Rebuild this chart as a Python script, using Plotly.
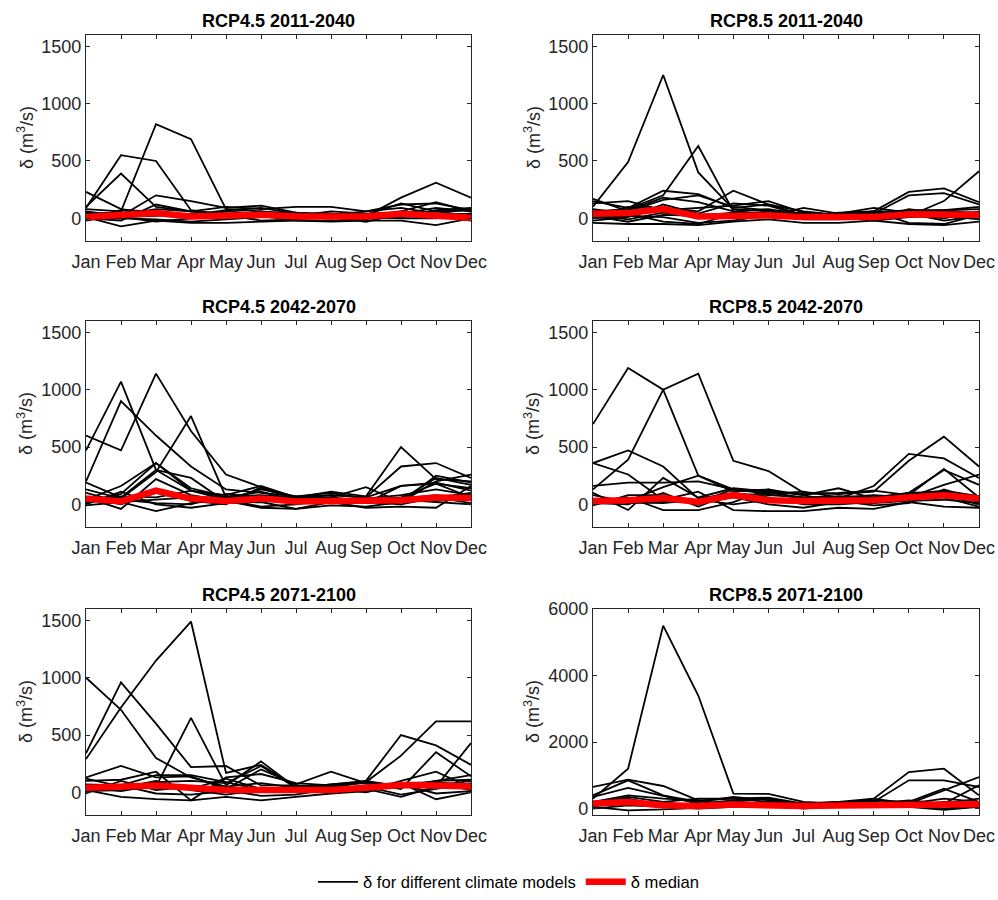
import plotly.graph_objects as go
from plotly.subplots import make_subplots

months = ["Jan", "Feb", "Mar", "Apr", "May", "Jun", "Jul", "Aug", "Sep", "Oct", "Nov", "Dec"]
panel_titles = ["RCP4.5 2011-2040", "RCP8.5 2011-2040",
                "RCP4.5 2042-2070", "RCP8.5 2042-2070",
                "RCP4.5 2071-2100", "RCP8.5 2071-2100"]

# Monthly delta per climate model (m3/s)
rcp45_2011_2040 = [
    [80, 60, 820, 690, 80, 60, 40, 30, 30, 50, 40, 20],
    [90, 550, 500, 70, 30, 40, 20, 10, 20, 60, 30, 40],
    [100, 390, 100, 60, 40, 30, 10, 20, 10, 20, 60, 70],
    [230, 80, 40, 20, 10, 20, 30, 40, 20, 180, 310, 180],
    [60, 20, 200, 150, 90, 110, 50, 40, 30, 130, 60, 80],
    [10, -70, -20, -40, -40, -30, -20, -20, -10, 60, 140, 60],
    [0, -20, 120, 60, 100, 80, 100, 100, 60, 120, 130, 70],
    [40, 50, 60, 30, 10, 20, -20, -30, -20, -20, -60, 0],
    [20, 30, 40, 10, 60, 40, 10, 0, 30, 30, 40, 80],
    [-10, 0, -10, -30, -10, 10, 20, 60, 40, 50, 20, -20],
    [50, 10, 20, 40, 30, -20, -10, 10, 0, 10, 70, 90],
    [0, 70, 60, 30, 70, 90, 40, 30, 60, 90, 40, 30],
    [-20, 30, 80, 60, 20, 60, 20, 10, -30, 40, 90, 60],
    [30, 10, -30, 0, 40, 30, 50, 20, 10, 0, 0, 40],
]
rcp85_2011_2040 = [
    [100, 490, 1250, 400, 80, 60, 20, 10, 20, 40, 60, 50],
    [60, 80, 200, 630, 60, 40, 10, 0, 30, 60, 50, 30],
    [40, 30, 90, 60, 240, 120, 30, 40, 20, 20, 150, 410],
    [170, 60, 160, 200, 100, 70, 40, 30, 60, 230, 260, 140],
    [130, 150, 70, 90, 110, 150, 50, 30, 40, 200, 220, 120],
    [150, 90, 240, 210, 90, 120, 60, 30, 60, 60, 70, 100],
    [-40, -50, -50, -60, -30, -10, -40, -40, -20, -50, -60, -30],
    [20, -30, 30, 20, 50, 20, 90, 40, 90, 50, 30, 40],
    [0, 20, 10, -40, -20, 30, 0, 10, -20, 10, 20, -10],
    [60, 70, 180, 140, 60, 80, 30, 20, 50, 70, 70, 80],
    [-20, 10, 120, 40, 130, 110, 20, 0, 10, 30, 0, 60],
    [80, 40, -30, -50, 40, 20, -10, -10, 0, 80, 40, 10],
    [30, -10, 50, 10, 0, 60, 40, 20, 30, 40, -20, 20],
    [10, 100, 80, 30, 30, 40, 10, 50, 60, -40, -50, 30],
]
rcp45_2042_2070 = [
    [470, 1070, 300, 120, 60, 50, 30, 20, 10, 40, 60, 100],
    [600, 470, 1140, 640, 260, 150, 60, 50, 40, 60, 180, 140],
    [200, 900, 600, 330, 130, 100, 70, 80, 60, 160, 190, 120],
    [130, 50, 280, 770, 60, 110, 30, 40, 50, 40, 230, 170],
    [20, 90, 360, 120, 80, 160, 60, 110, 70, 500, 220, 200],
    [190, 60, 300, 230, 20, 140, 50, 80, 60, 330, 360, 230],
    [40, 160, 360, 140, 70, 80, 60, 60, 150, 20, 250, 190],
    [60, -40, 220, 80, 30, -30, -40, -10, -20, 20, 200, 260],
    [0, 110, 0, -30, 10, 20, -40, 20, -30, -20, -30, 160],
    [100, 20, -60, 10, 40, -20, 0, 40, 10, 160, 180, 60],
    [30, 70, 60, 120, 40, 130, 70, 100, 50, 80, 130, 80],
    [-10, 20, 40, 60, 60, 40, 30, 30, 20, 0, 60, 10],
    [60, 0, 100, 30, 0, 150, 40, 20, 10, 50, 80, 50],
    [20, 40, 10, 0, 90, 60, 20, 60, 30, 40, 20, 0],
]
rcp85_2042_2070 = [
    [700, 1190, 1000, 250, 130, 100, 60, 70, 60, 100, 110, 60],
    [130, 390, 1000, 1140, 380, 290, 100, 90, 110, 380, 590, 330],
    [360, 470, 330, 50, 100, 30, 20, 50, 160, 440, 400, 230],
    [360, 260, 40, 20, 130, 120, 80, 140, 50, 100, 300, 170],
    [160, 190, 190, 200, 130, 90, 110, 60, 80, 60, 170, 260],
    [100, -50, 230, 60, 140, 110, 90, 100, 120, 80, 310, 60],
    [30, 30, 150, 250, 110, 130, 30, 70, 60, 90, 120, 70],
    [0, 40, 40, 110, -50, -60, -60, -30, -40, 20, -20, -30],
    [20, 60, -50, -50, 20, 130, 80, 20, 10, 30, 40, 10],
    [50, 10, 20, 20, 60, 0, -30, 20, 40, 50, 80, 0],
    [-10, 80, 80, 0, 90, 80, 60, 30, -10, 10, 130, 40],
    [80, 20, 10, 40, 0, 40, 40, 60, 30, 70, 60, -20],
    [10, 0, 100, -20, 100, 60, 0, 0, 20, 100, 100, 20],
]
rcp45_2071_2100 = [
    [1000, 720, 300, 130, 50, 80, 40, 20, 40, 70, 60, 100],
    [290, 740, 1150, 1490, 170, 240, 50, 60, 80, 40, 100, 150],
    [340, 960, 600, 220, 230, 60, 60, 50, 90, 320, 620, 620],
    [120, 50, 50, 650, 60, 270, 40, 30, 100, 500, 410, 240],
    [130, 230, 130, 140, 30, 200, 70, 180, 80, 30, 350, 140],
    [100, 110, 180, -70, 130, 160, 80, 60, 30, -40, 50, 430],
    [20, -40, -60, -70, -40, -70, -40, -10, 10, 100, 180, 40],
    [50, 60, 150, 150, 90, 20, 20, 20, 60, 80, -60, 0],
    [10, 20, 90, 100, 80, 230, 40, 70, 90, 60, 80, 20],
    [70, 60, -10, -20, 10, 40, 30, 70, 100, 50, 100, 110],
    [-10, 100, 20, 50, 20, -30, -20, 30, 0, 70, -10, 10],
    [40, 10, 60, 30, 120, 30, 0, 10, 20, 80, 90, 60],
    [30, 40, 100, 20, -20, 20, 10, 40, 50, -20, 30, 80],
]
rcp85_2071_2100 = [
    [300, 1200, 5500, 3400, 450, 440, 200, 150, 250, 200, 150, 300],
    [650, 870, 680, 250, 300, 330, 150, 200, 300, 1100, 1200, 400],
    [400, 850, 400, 200, 350, 250, 150, 200, 200, 850, 850, 650],
    [350, 620, 380, 150, 250, 300, 100, 150, 100, 200, 600, 200],
    [200, 400, 300, 250, 100, 200, 150, 120, 300, 150, 550, 950],
    [150, 350, 200, 300, 300, 200, 100, 100, 150, 250, 150, 700],
    [100, 250, 150, 100, 200, 300, 100, 200, 200, 150, 300, 200],
    [50, -50, -20, 20, 100, 50, 50, 50, 100, 50, -40, 50],
    [0, 100, 50, 0, 50, 100, 0, 80, 50, 100, 0, 100],
    [200, 300, 100, 150, 150, 100, 80, 100, 150, 100, 200, 150],
    [80, 150, 200, 50, 100, 150, 120, 60, 80, 200, 100, 50],
]

# Ensemble median per panel
median_rcp45_2011_2040 = [10, 25, 45, 15, 25, 30, 15, 10, 15, 40, 20, 5]
median_rcp85_2011_2040 = [40, 45, 80, 15, 20, 25, 10, 10, 10, 35, 35, 30]
median_rcp45_2042_2070 = [50, 25, 120, 50, 30, 50, 25, 30, 35, 35, 60, 55]
median_rcp85_2042_2070 = [30, 35, 55, 20, 80, 35, 30, 30, 35, 60, 80, 50]
median_rcp45_2071_2100 = [40, 45, 60, 40, 20, 20, 20, 20, 40, 65, 60, 50]
median_rcp85_2071_2100 = [150, 200, 100, 80, 120, 80, 80, 90, 100, 120, 130, 130]

models = [rcp45_2011_2040, rcp85_2011_2040, rcp45_2042_2070,
          rcp85_2042_2070, rcp45_2071_2100, rcp85_2071_2100]
medians = [median_rcp45_2011_2040, median_rcp85_2011_2040, median_rcp45_2042_2070,
           median_rcp85_2042_2070, median_rcp45_2071_2100, median_rcp85_2071_2100]
y_ranges = [[-200, 1600]] * 5 + [[-200, 6000]]
y_ticks = [[0, 500, 1000, 1500]] * 5 + [[0, 2000, 4000, 6000]]

W, H = 998, 900
FONT = "Liberation Sans, Arial, Helvetica, sans-serif"
AX = "#262626"

# panel boxes in pixels: (left, right, top, bottom)
col_px = [(86, 471), (593, 979)]
row_px = [(35, 242), (322, 529), (611, 818)]

fig = make_subplots(rows=3, cols=2)
x = list(range(1, 13))

for i in range(6):
    r, c = i // 2 + 1, i % 2 + 1
    first = i == 0
    for k, series in enumerate(models[i]):
        fig.add_trace(go.Scatter(
            x=x, y=series, mode="lines",
            line=dict(color="black", width=1.8),
            name="δ for different climate models",
            legendgroup="models", showlegend=(first and k == 0),
            hoverinfo="skip"), row=r, col=c)
    fig.add_trace(go.Scatter(
        x=x, y=medians[i], mode="lines",
        line=dict(color="#ff0000", width=6.5),
        name="δ median", legendgroup="median", showlegend=first,
        hoverinfo="skip"), row=r, col=c)

    xl, xr = col_px[c - 1]
    yt, yb = row_px[r - 1]
    xa = "xaxis" if i == 0 else f"xaxis{i + 1}"
    ya = "yaxis" if i == 0 else f"yaxis{i + 1}"
    fig.layout[xa].update(
        domain=[xl / W, xr / W], range=[1, 12], automargin=False,
        tickmode="array", tickvals=x, ticktext=months,
        ticks="inside", ticklen=4, tickwidth=1, tickcolor=AX,
        ticklabelstandoff=4,
        showline=True, linecolor=AX, linewidth=1.2, mirror="allticks",
        showgrid=False, zeroline=False,
        tickfont=dict(family=FONT, size=18, color=AX))
    fig.layout[ya].update(
        domain=[1 - yb / H, 1 - yt / H], range=y_ranges[i], automargin=False,
        tickmode="array", tickvals=y_ticks[i],
        ticks="inside", ticklen=4, tickwidth=1, tickcolor=AX,
        showline=True, linecolor=AX, linewidth=1.2, mirror="allticks",
        showgrid=False, zeroline=False,
        tickfont=dict(family=FONT, size=18, color=AX))

    # panel title
    fig.add_annotation(
        text=f"<b>{panel_titles[i]}</b>", xref="paper", yref="paper",
        x=(xl + xr) / 2 / W, y=1 - (yt - 2) / H, xanchor="center", yanchor="bottom",
        showarrow=False, font=dict(family=FONT, size=18, color="black"))
    # y-axis label
    lab_x = 25 if c == 1 else 532
    fig.add_annotation(
        text="δ (m<sup>3</sup>/s)", xref="paper", yref="paper",
        x=lab_x / W, y=1 - (yt + yb) / 2 / H, xanchor="center", yanchor="middle",
        textangle=-90, showarrow=False,
        font=dict(family=FONT, size=18, color=AX))

fig.update_layout(
    width=W, height=H,
    margin=dict(l=0, r=0, t=0, b=0),
    paper_bgcolor="white", plot_bgcolor="white",
    showlegend=True,
    legend=dict(orientation="h", x=0.51, xanchor="center", y=15 / H, yanchor="middle",
                font=dict(family=FONT, size=16.6, color="black"),
                bgcolor="rgba(0,0,0,0)", itemwidth=40, tracegroupgap=0),
)

fig.write_html("out.html")
